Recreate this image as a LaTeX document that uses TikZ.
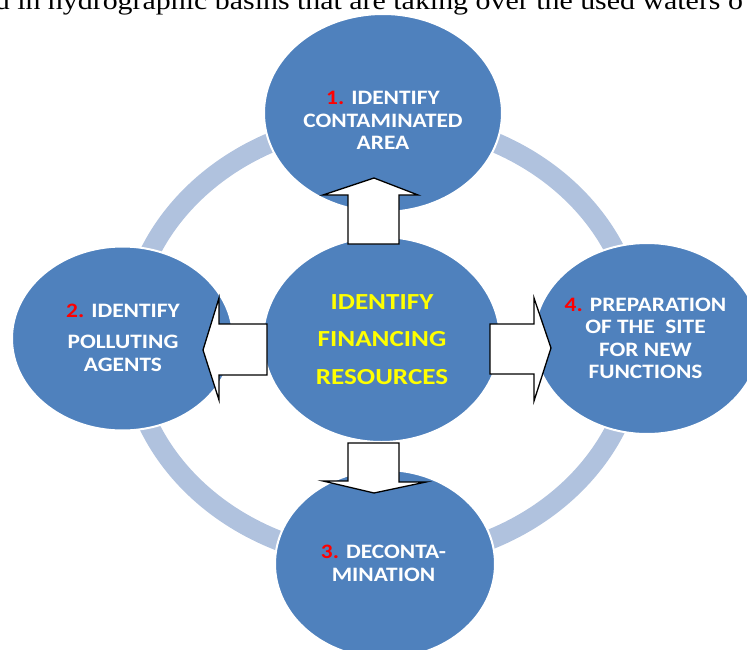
\documentclass[tikz,border=0pt]{standalone}
\usepackage{fontspec}
\setmainfont{Liberation Serif}
\newfontfamily\calib{Carlito}
\usetikzlibrary{shapes.geometric}
\definecolor{blobblue}{HTML}{4F81BD}
\definecolor{ringblue}{HTML}{B0C2DE}
\definecolor{numred}{HTML}{FF0000}
\definecolor{txtyellow}{HTML}{FFFF00}
\begin{document}
\begin{tikzpicture}[x=1pt,y=-1pt,
  blob/.style={ellipse, fill=blobblue, draw=white, line width=2pt, inner sep=0pt},
  ringshape/.style={ellipse, draw=ringblue, line width=20pt, inner sep=0pt},
  otxt/.style={text=white, align=center, inner sep=0pt, xscale=1.14, transform shape,
    font=\calib\bfseries\fontsize{20.5}{22.5}\selectfont},
  ctxt/.style={text=txtyellow, align=center, inner sep=0pt, xscale=1.18, transform shape,
    font=\calib\bfseries\fontsize{23}{37.5}\selectfont},
  hdrtxt/.style={anchor=base west, inner sep=0pt, xscale=1.15, transform shape,
    font=\fontsize{26}{26}\selectfont},
  barrow/.style={draw=black, fill=white, line width=1.3pt, line join=miter}]
\useasboundingbox (0,0) rectangle (747,650);
\clip (0,0) rectangle (747,650);
% header line of the page
\node[hdrtxt] (hdr) at (-5.4,9.3) {d in hydrographic basins that are taking over the used waters o};
% ring
\node[ringshape, minimum width=508pt, minimum height=440pt] (ring) at (383,340) {};
% ellipses
\node[blob, minimum width=238pt, minimum height=198pt] (n1) at (383,113) {};
\node[blob, minimum width=221pt, minimum height=184pt] (n2) at (122.5,338.5) {};
\node[blob, minimum width=220pt, minimum height=188pt] (n3) at (385,564) {};
\node[blob, minimum width=226pt, minimum height=191pt] (n4) at (647,338.5) {};
\node[blob, minimum width=237pt, minimum height=205pt] (n0) at (381.5,339.5) {};
% block arrows
\draw[barrow] (348,244) -- (348,195) -- (323,195) -- (374,178) -- (418,195) -- (399,195) -- (399,244) -- cycle;
\draw[barrow] (267,324) -- (219,324) -- (219,298) -- (203,350) -- (219,400) -- (219,375) -- (267,375) -- cycle;
\draw[barrow] (490,324) -- (534,324) -- (534,298) -- (551,348) -- (534,401) -- (534,374) -- (490,374) -- cycle;
\draw[barrow] (348,443) -- (348,481) -- (323,481) -- (374,493) -- (426,482) -- (399,482) -- (399,443) -- cycle;
% texts
\node[otxt] (t1) at (383,120.5) {{\color{numred}1.} IDENTIFY\\CONTAMINATED\\AREA};
\node[otxt] (t2) at (123,338) {{\color{numred}2.} IDENTIFY\\[8.5pt]POLLUTING\\AGENTS};
\node[otxt] (t3) at (383.5,563.5) {{\color{numred}3.} DECONTA-\\MINATION};
\node[otxt] (t4) at (645.5,338.5) {{\color{numred}4.} PREPARATION\\OF THE~~SITE\\FOR NEW\\FUNCTIONS};
\node[ctxt] (t0) at (382,339.5) {IDENTIFY\\FINANCING\\RESOURCES};
\end{tikzpicture}
\end{document}
